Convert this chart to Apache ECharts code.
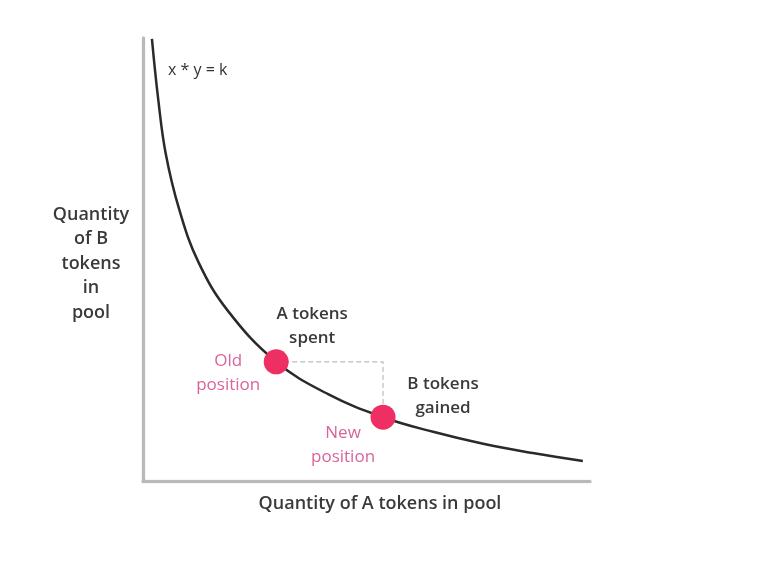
<!DOCTYPE html>
<html>
<head>
<meta charset="utf-8">
<script src="https://cdn.jsdelivr.net/npm/echarts@6/dist/echarts.min.js"></script>
<style>
  html, body { margin: 0; padding: 0; background: #ffffff; }
  #chart { width: 761px; height: 563px; }
</style>
</head>
<body>
<div id="chart"></div>
<script>
// Curve x * y = k (A quantity, B quantity)
const curveA = [2.0, 3.4, 5.1, 8.1, 12.4, 19.0, 29.8, 41.4, 53.7, 64.9, 76.1, 87.2, 98.4];
const curveB = [99.8, 86.2, 73.8, 61.3, 49.4, 38.4, 26.9, 19.6, 14.4, 11.1, 8.4, 6.3, 4.5];
// Positions
const positionNames = ['Old position', 'New position'];
const positionA = [29.8, 53.7];
const positionB = [26.9, 14.4];
// Texts
const curveLabel = 'x * y = k';
const xTitle = 'Quantity of A tokens in pool';
const yTitle = ['Quantity', 'of B', 'tokens', 'in', 'pool'];
const spentLabel = ['A tokens', 'spent'];
const gainedLabel = ['B tokens', 'gained'];

const FONT = '"Open Sans", "Noto Sans", sans-serif';
const DARK = '#3a3a3a';
const PINK_TEXT = '#d9649a';
const PINK = '#ee2f64';

const chart = echarts.init(document.getElementById('chart'));

const curveData = curveA.map((a, i) => [a, curveB[i]]);
const pointData = positionA.map((a, i) => [a, positionB[i]]);
const guideData = [
  [positionA[0], positionB[0]],
  [positionA[1], positionB[0]],
  [positionA[1], positionB[1]]
];

chart.setOption({
  animation: false,
  backgroundColor: '#ffffff',
  grid: { left: 143, top: 38, width: 447, height: 443 },
  xAxis: {
    type: 'value', min: 0, max: 100,
    axisLine: { show: true, onZero: false, lineStyle: { color: '#b9b9b9', width: 3, shadowColor: 'rgba(0,0,0,0.12)', shadowBlur: 2 } },
    axisTick: { show: false }, axisLabel: { show: false }, splitLine: { show: false }
  },
  yAxis: {
    type: 'value', min: 0, max: 100,
    axisLine: { show: true, onZero: false, lineStyle: { color: '#b9b9b9', width: 3, shadowColor: 'rgba(0,0,0,0.12)', shadowBlur: 2 } },
    axisTick: { show: false }, axisLabel: { show: false }, splitLine: { show: false }
  },
  series: [
    {
      type: 'line', data: guideData, symbol: 'none', silent: true,
      lineStyle: { color: '#bdbdbd', width: 1.2, type: [5, 3] }, z: 1
    },
    {
      type: 'line', data: curveData, smooth: 0.4, symbol: 'none', silent: true,
      lineStyle: { color: '#2a2a2a', width: 2.5 }, z: 2
    },
    {
      type: 'scatter', data: pointData, symbolSize: 25, z: 3,
      itemStyle: { color: PINK, opacity: 1 },
      label: { show: false }
    }
  ]
});

function px(a, b) { return chart.convertToPixel({ gridIndex: 0 }, [a, b]); }

const oldP = px(positionA[0], positionB[0]);
const newP = px(positionA[1], positionB[1]);

function textEl(x, y, text, opt) {
  return {
    type: 'text', x: x, y: y, silent: true,
    style: Object.assign({
      text: text, fontFamily: FONT, fontSize: 17, fill: DARK,
      align: 'center', verticalAlign: 'middle', lineHeight: 24
    }, opt || {})
  };
}

chart.setOption({
  graphic: [
    textEl(168, 70, curveLabel, { align: 'left', fontSize: 16, fill: '#333' }),
    textEl(91, 263.5, yTitle.join('\n'), { fontSize: 18, fontWeight: 600, lineHeight: 24.5 }),
    textEl(380, 504, xTitle, { fontSize: 18, fontWeight: 600 }),
    textEl(oldP[0] + 36, oldP[1] - 36, spentLabel.join('\n'), { fontWeight: 600 }),
    textEl(newP[0] + 60, newP[1] - 21, gainedLabel.join('\n'), { fontWeight: 600 }),
    textEl(oldP[0] - 48, oldP[1] + 11, 'Old\nposition', { fill: PINK_TEXT }),
    textEl(newP[0] - 40, newP[1] + 27.5, 'New\nposition', { fill: PINK_TEXT })
  ]
});
</script>
</body>
</html>
